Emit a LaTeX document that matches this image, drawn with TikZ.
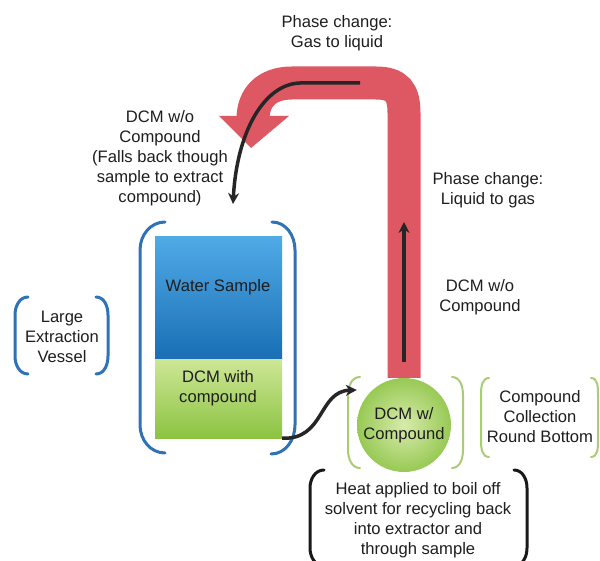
\documentclass[tikz,border=0pt]{standalone}
\usepackage{fontspec}
\setmainfont{Liberation Sans}
\usetikzlibrary{arrows.meta,shapes.geometric}
\definecolor{pipecol}{RGB}{222,88,100}
\definecolor{bluebr}{RGB}{47,114,181}
\definecolor{greenbr}{RGB}{170,205,115}
\definecolor{wtop}{RGB}{80,170,230}
\definecolor{wbot}{RGB}{25,110,180}
\definecolor{gtop}{RGB}{205,230,150}
\definecolor{gbot}{RGB}{140,195,65}
\definecolor{txt}{RGB}{30,30,30}
\begin{document}
\begin{tikzpicture}[x=1pt,y=-1pt,
  lbl/.style={font=\fontsize{16.6}{20}\selectfont, align=center, text=txt, inner sep=0pt},
  bbr/.style={draw=bluebr, line width=3pt, line cap=round},
  gbr/.style={draw=greenbr, line width=2pt, line cap=round},
  kbr/.style={draw=black!90, line width=3pt, line cap=round},
  flow/.style={draw=black!85, line width=3.5pt, -{Stealth[length=11pt,width=11pt]}}]
\useasboundingbox (0,0) rectangle (600,561);
% red pipe
\draw[pipecol, line width=33pt] (404,378) -- (404,113) .. controls (404,92) and (397,83) .. (376,83) -- (292,83) .. controls (266,83) and (253,98) .. (253,119);
\fill[pipecol] (219,116) -- (289,116) -- (251,148) -- cycle;
% coordinates
\coordinate (topstart) at (360,83);
\coordinate (vin) at (233,204);
\coordinate (up0) at (404,362);
\coordinate (up1) at (404,222);
% vessel
\node[minimum width=127pt, minimum height=123pt, inner sep=0pt, top color=wtop, bottom color=wbot] (water) at (218.5,298.5) {};
\node[minimum width=127pt, minimum height=78pt, inner sep=0pt, top color=gtop, bottom color=gbot] (dcm) at (218.5,399) {};
\node[lbl] (wtxt) at (218,287) {Water Sample};
\node[lbl] (dtxt) at (218,388) {DCM with\\compound};
% ball
\node[circle, minimum size=94pt, inner sep=0pt, inner color=gtop!80!white, outer color=gbot!90!white, lbl] (ball) at (404,425) {DCM w/\\Compound};
% brackets
\draw[bbr] (165,222) to[out=180,in=90] (140,250) -- (140,425) to[out=-90,in=180] (165,453);
\draw[bbr] (272,222) to[out=0,in=90] (295,250) -- (295,425) to[out=-90,in=0] (271,454);
\draw[bbr] (28,297) to[out=180,in=90] (15,315) -- (15,356) to[out=-90,in=180] (28,374);
\draw[bbr] (96,297) to[out=0,in=90] (108,315) -- (108,356) to[out=-90,in=0] (96,374);
\draw[gbr] (360,377) to[out=180,in=90] (348,395) -- (348,450) to[out=-90,in=180] (360,468);
\draw[gbr] (452,377) to[out=0,in=90] (463,395) -- (463,450) to[out=-90,in=0] (452,468);
\draw[gbr] (489,378) to[out=180,in=90] (481,394) -- (481,441) to[out=-90,in=180] (489,457);
\draw[gbr] (591,378) to[out=0,in=90] (598,394) -- (598,441) to[out=-90,in=0] (591,457);
\draw[kbr] (324,470) to[out=180,in=90] (310,488) -- (310,548) to[out=-90,in=180] (324,566);
\draw[kbr] (514,470) to[out=0,in=90] (527,488) -- (527,548) to[out=-90,in=0] (514,566);
% arrows
\draw[flow] (topstart) -- (300,83) .. controls (265,84) and (237,130) .. (vin);
\draw[flow] (up0) -- (up1);
\draw[flow] (dcm.south east) .. controls (325,440) and (318,391) .. (ball.west |- 0,390);
% labels
\node[lbl] (gl) at (337,33) {Phase change:\\Gas to liquid};
\node[lbl] (lg) at (488,190) {Phase change:\\Liquid to gas};
\node[lbl] (dwo) at (480,297) {DCM w/o\\Compound};
\node[lbl] (falls) at (160,158) {DCM w/o\\Compound\\(Falls back though\\sample to extract\\compound)};
\node[lbl] (lev) at (62,337) {Large\\Extraction\\Vessel};
\node[lbl] (ccr) at (540,417) {Compound\\Collection\\Round Bottom};
\node[lbl] (heat) at (418,520) {Heat applied to boil off\\solvent for recycling back\\into extractor and\\through sample};
\end{tikzpicture}
\end{document}
